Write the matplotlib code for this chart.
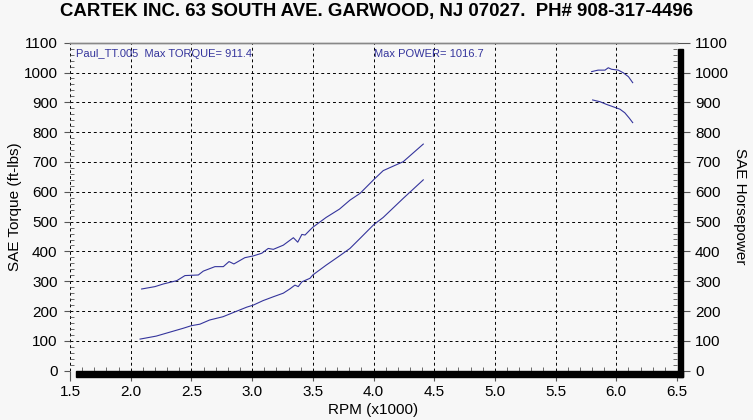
import matplotlib
matplotlib.use('Agg')
import matplotlib.pyplot as plt
import numpy as np
from matplotlib.patches import Rectangle
from matplotlib.ticker import MultipleLocator

# torque curve (ft-lbs), gap between the two test runs marked with nan
torque_rpm = [2.09, 2.2, 2.27, 2.38, 2.447, 2.557, 2.598, 2.694, 2.763, 2.81, 2.85,
              2.94, 3.01, 3.08, 3.133, 3.175, 3.257, 3.34, 3.376, 3.41, 3.436, 3.477,
              3.5, 3.61, 3.72, 3.806, 3.89, 4.0, 4.08, 4.245, 4.41,
              np.nan,
              5.805, 5.866, 5.92, 5.975, 6.03, 6.07, 6.107, 6.135]
torque = [274, 282, 291, 302, 319, 321, 334, 349, 349, 366, 358,
          379, 385, 394, 410, 407, 421, 446, 431, 457, 455, 472,
          481, 514, 542, 572, 595, 640, 671, 701, 760,
          np.nan,
          908, 902, 893, 885, 877, 865, 847, 832]

# horsepower curve
hp_rpm = [2.077, 2.21, 2.32, 2.43, 2.5, 2.57, 2.65, 2.76, 2.845, 2.955, 3.01,
          3.09, 3.175, 3.257, 3.31, 3.353, 3.38, 3.41, 3.477, 3.5, 3.61, 3.72,
          3.806, 3.89, 4.0, 4.08, 4.245, 4.41,
          np.nan,
          5.797, 5.85, 5.907, 5.934, 5.96, 6.016, 6.058, 6.1, 6.135]
hp = [106, 116, 129, 142, 151, 156, 170, 181, 195, 213, 220,
      235, 248, 260, 274, 287, 282, 298, 310, 321, 354, 385,
      410, 444, 489, 514, 578, 640,
      np.nan,
      1003, 1008, 1008, 1016, 1011, 1008, 999, 986, 966]

title = 'CARTEK INC. 63 SOUTH AVE. GARWOOD, NJ 07027.  PH# 908-317-4496'
note_left = 'Paul_TT.005  Max TORQUE= 911.4'
note_right = 'Max POWER= 1016.7'

plt.rcParams['font.family'] = ['Liberation Sans', 'DejaVu Sans']
bg = '#f7f7f7'
line_col = '#34349c'

fig = plt.figure(figsize=(7.53, 4.2), dpi=100, facecolor=bg)
ax = fig.add_axes([70/753, 1-370.7/420, 607/753, 328/420], facecolor=bg)
ax2 = ax.twinx()

ax.plot(torque_rpm, torque, color=line_col, lw=0.8)
ax.plot(hp_rpm, hp, color=line_col, lw=0.8)

ax.set_xlim(1.5, 6.5)
ax.set_ylim(0, 1100)
ax2.set_ylim(0, 1100)
ax.xaxis.set_major_locator(MultipleLocator(0.5))
ax.xaxis.set_minor_locator(MultipleLocator(0.1))
ax.yaxis.set_major_locator(MultipleLocator(100))
ax.yaxis.set_minor_locator(MultipleLocator(20))
ax2.yaxis.set_major_locator(MultipleLocator(100))
ax2.yaxis.set_minor_locator(MultipleLocator(20))
ax.set_xticklabels([f'{v:.1f}' for v in ax.get_xticks()])

ax.grid(True, which='major', color='black', linestyle=(0, (3, 3)), lw=0.7)
for a in (ax, ax2):
    for s in ('left', 'right', 'bottom'):
        a.spines[s].set_visible(False)
    a.spines['top'].set_color('#888888')
    a.spines['top'].set_linewidth(1)

ax.tick_params(axis='x', which='major', direction='out', length=7, pad=3,
               labelsize=11, color='#555555')
ax.tick_params(axis='y', which='major', direction='out', length=4, pad=5,
               labelsize=11, color='#555555')
ax.tick_params(which='minor', direction='in', length=3, color='#555555')
ax2.tick_params(axis='y', which='major', direction='out', length=9, pad=4,
                labelsize=11, color='#555555')
ax2.tick_params(axis='y', which='minor', direction='in', length=3, color='#555555')

ax.set_ylabel('SAE Torque (ft-lbs)', fontsize=11, labelpad=1)
ax2.set_ylabel('SAE Horsepower', fontsize=11, rotation=270, labelpad=13)
ax.set_xlabel('RPM (x1000)', fontsize=11, labelpad=3)

fig.text(0.5, 0.973, title, ha='center', va='center', fontsize=13.4, fontweight='bold')
ax.text(0.01, 0.966, note_left, transform=ax.transAxes, fontsize=8,
        color=line_col, va='center', ha='left')
ax.text(0.5, 0.966, note_right, transform=ax.transAxes, fontsize=8,
        color=line_col, va='center', ha='left')

# drop-shadow bars under and right of the plot frame
fig.patches.append(Rectangle((76/753, 43/420), 607/753, 6/420, transform=fig.transFigure,
                             color='black', zorder=5))
fig.patches.append(Rectangle((678/753, 43/420), 5/753, 328/420, transform=fig.transFigure,
                             color='black', zorder=5))

fig.savefig('out.png', dpi=100, facecolor=bg)
